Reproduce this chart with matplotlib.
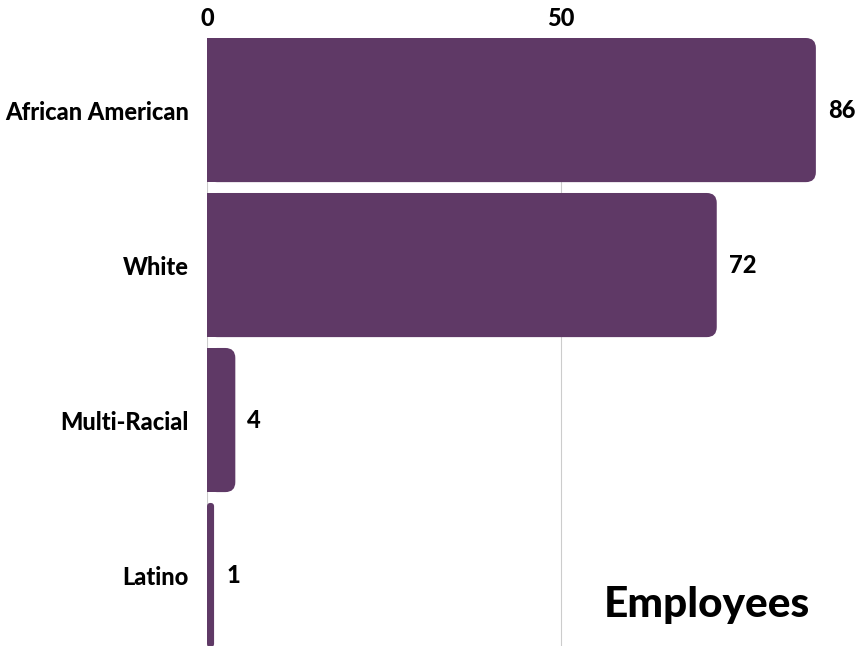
import matplotlib
matplotlib.use('Agg')

import matplotlib.pyplot as plt
from matplotlib.patches import FancyBboxPatch
from matplotlib.transforms import IdentityTransform

categories = ['African American', 'White', 'Multi-Racial', 'Latino']
employees = [86, 72, 4, 1]
xticks = [0, 50]

bar_color = '#5f3966'
plt.rcParams['font.family'] = ['Lato', 'DejaVu Sans']
weight = 'black'
fs = 17

W, H = 858, 646
fig = plt.figure(figsize=(W / 100, H / 100), dpi=100)
# axes placed in pixel units: left edge at the zero line
left, right, top, bottom = 207, 858, 38, 646
ax = fig.add_axes([left / W, 1 - bottom / H, (right - left) / W, (bottom - top) / H])

xmax = 91.95
ymin, ymax = 3.458, -0.465
ax.set_xlim(0, xmax)
ax.set_ylim(ymin, ymax)

bar_h = 0.93
# data units per pixel, used to keep the corners circular on screen
px_x = xmax / (right - left)
px_y = abs(ymin - ymax) / (bottom - top)
r = 10 * px_x
for i, v in enumerate(employees):
    rr = min(r, v / 2)
    ax.add_patch(FancyBboxPatch((0, i - bar_h / 2), v, bar_h,
                                boxstyle='round,pad=0,rounding_size={}'.format(rr),
                                mutation_aspect=px_y / px_x,
                                facecolor=bar_color, edgecolor='none', zorder=3))
    # square left edge, except on the thinnest bar
    if v > 1:
        ax.add_patch(plt.Rectangle((0, i - bar_h / 2), rr, bar_h,
                                   facecolor=bar_color, edgecolor='none', zorder=3))
    ax.text(v + 12 * px_x, i, str(v), va='center', ha='left', fontsize=fs,
            fontweight=weight, color='black')

ax.set_yticks(range(len(categories)))
ax.set_yticklabels(categories, fontsize=fs, fontweight=weight)
ax.set_xticks(xticks)
ax.set_xticklabels([str(t) for t in xticks], fontsize=fs, fontweight=weight)
ax.xaxis.tick_top()
ax.tick_params(axis='x', length=0, pad=6)
ax.tick_params(axis='y', length=0, pad=13)
ax.grid(axis='x', color='#cccccc', linewidth=0.8, zorder=0)
ax.set_axisbelow(True)
for s in ax.spines.values():
    s.set_visible(False)

fig.text(810, H - 605, 'Employees', transform=IdentityTransform(), fontsize=30.5,
         fontweight=weight, ha='right', va='center')

fig.savefig('out.png', dpi=100)
